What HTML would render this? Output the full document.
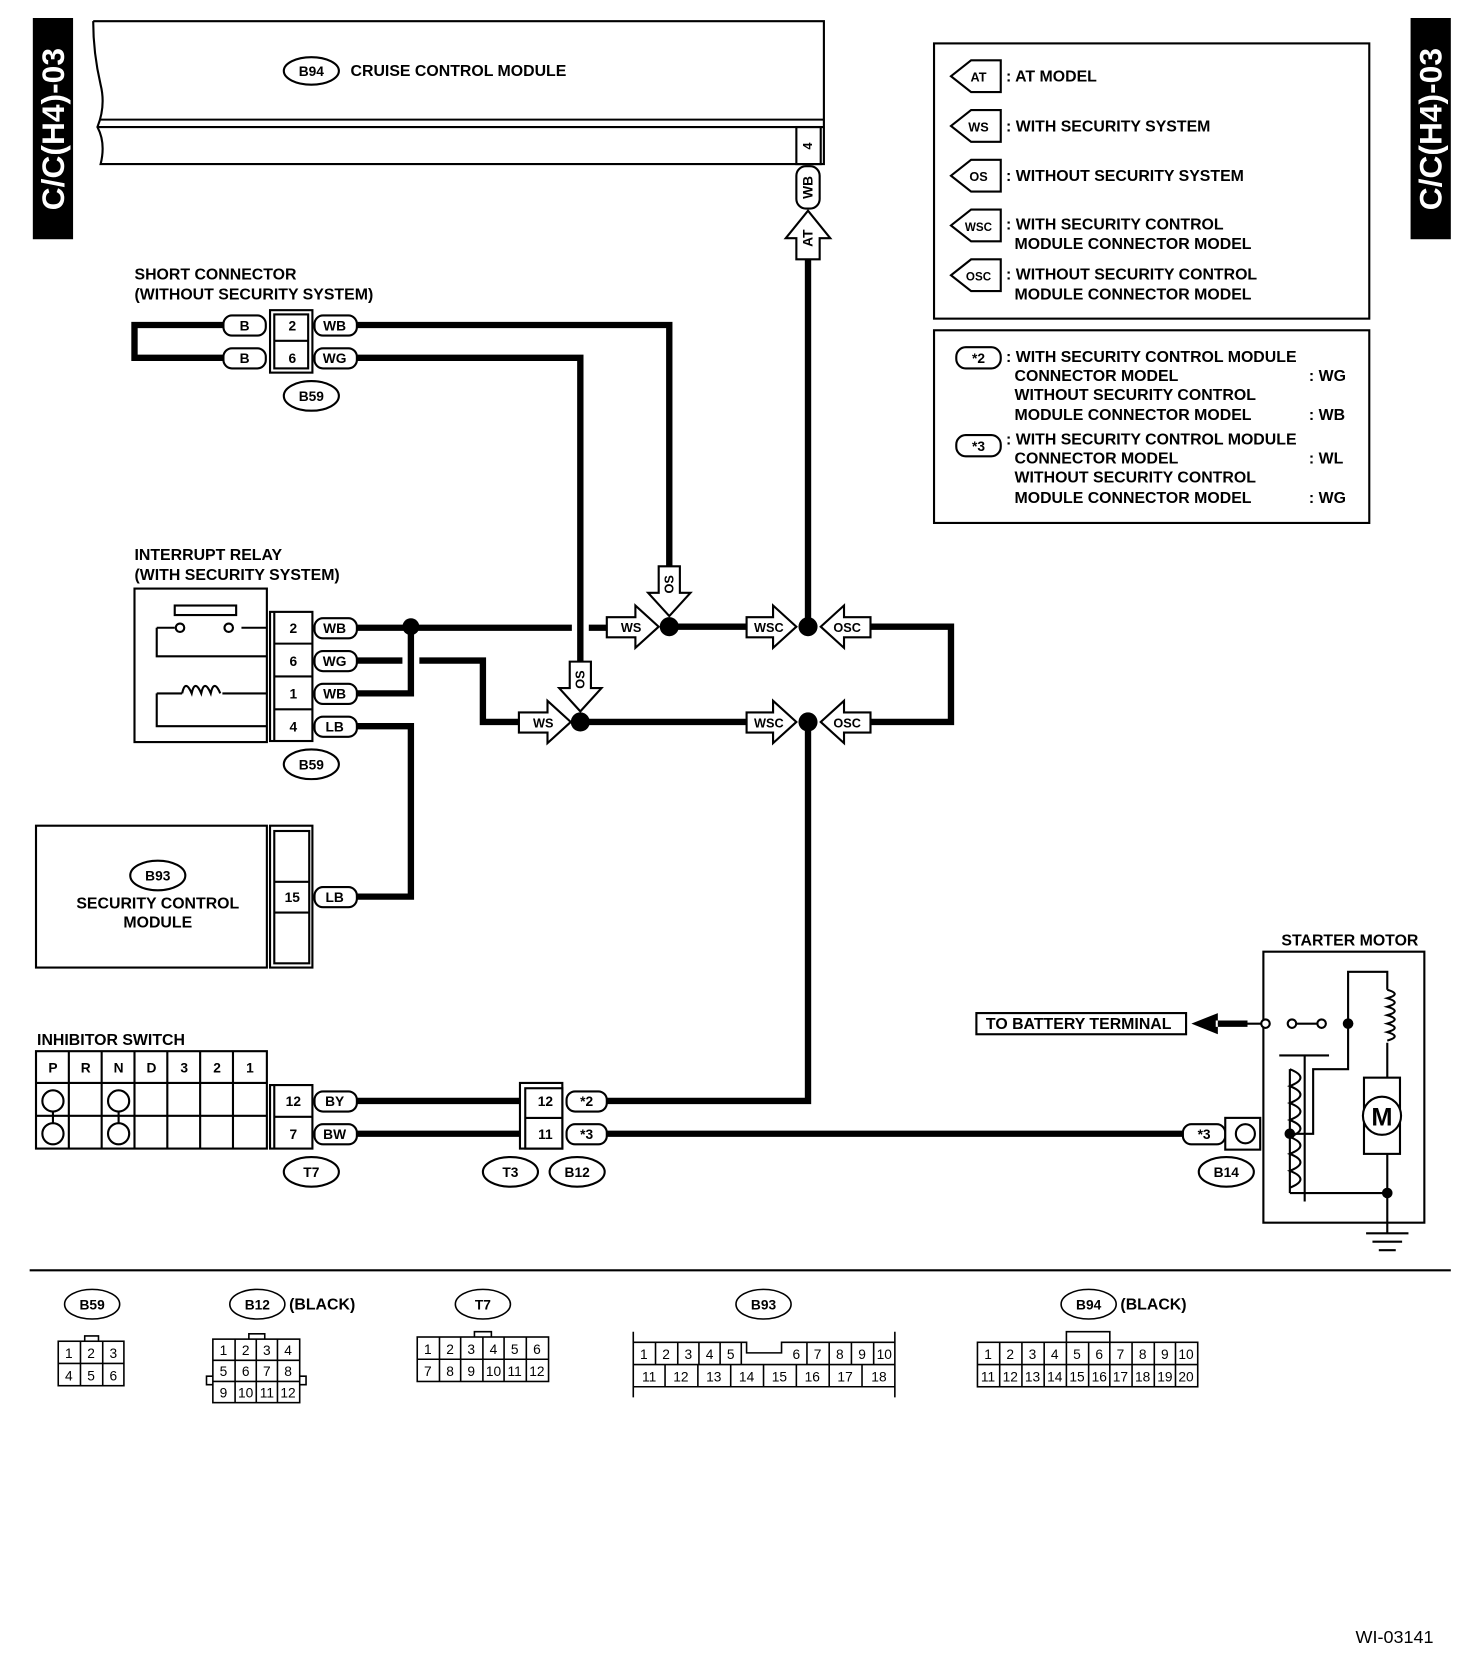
<!DOCTYPE html>
<html><head><meta charset="utf-8"><style>
html,body{margin:0;padding:0;background:#fff}
svg{display:block}
text{font-family:"Liberation Sans",Arial,sans-serif;font-weight:bold;font-size:15px;fill:#000}
.n{font-weight:normal}
</style></head><body>
<svg width="1472" height="1662" viewBox="0 0 1390 1570" preserveAspectRatio="none" xmlns="http://www.w3.org/2000/svg">
<g fill="none" stroke="#000" stroke-width="2">
<rect x="32" y="18" width="36" height="207" fill="#000"/>
<rect x="1333" y="18" width="36" height="207" fill="#000"/>
<path d="M88 20 L778 20 L778 155 L95 155 Q100 135 92 120 Q100 100 95 80 Q88 50 88 20"/>
<path d="M95 113 L778 113 M92 120 L778 120"/>
<rect x="752" y="120" width="23" height="35"/>
<ellipse cx="294" cy="67" rx="26" ry="13"/>
<rect x="752" y="157" width="22" height="40" rx="9"/>
<path d="M752 245 L752 225 L742 225 L763 199 L784 225 L774 225 L774 245 Z" fill="#fff"/>
<rect x="882" y="41" width="411" height="260"/>
<rect x="882" y="312" width="411" height="182"/>
<path d="M945 57 L917 57 L898 72 L917 87 L945 87 Z"/>
<path d="M945 104 L917 104 L898 119 L917 134 L945 134 Z"/>
<path d="M945 151 L917 151 L898 166 L917 181 L945 181 Z"/>
<path d="M945 198 L917 198 L898 213 L917 228 L945 228 Z"/>
<path d="M945 245 L917 245 L898 260 L917 275 L945 275 Z"/>
<rect x="903" y="328" width="42" height="20" rx="9"/>
<rect x="903" y="411" width="42" height="20" rx="9"/>
</g>
<text x="50" y="122" transform="rotate(-90 50 122)" text-anchor="middle" dominant-baseline="central" style="fill:#fff;font-size:30px">C/C(H4)-03</text>
<text x="1351" y="122" transform="rotate(-90 1351 122)" text-anchor="middle" dominant-baseline="central" style="fill:#fff;font-size:30px">C/C(H4)-03</text>
<text x="294" y="72" text-anchor="middle" style="font-size:13px">B94</text>
<text x="331" y="72">CRUISE CONTROL MODULE</text>
<text x="763" y="138" transform="rotate(-90 763 138)" text-anchor="middle" dominant-baseline="central" style="font-size:12px">4</text>
<text x="763" y="177" transform="rotate(-90 763 177)" text-anchor="middle" dominant-baseline="central" style="font-size:13px">WB</text>
<text x="763" y="225" transform="rotate(-90 763 225)" text-anchor="middle" dominant-baseline="central" style="font-size:13px">AT</text>
<g>
<text x="924" y="77" text-anchor="middle" style="font-size:12px">AT</text><text x="950" y="77">: AT MODEL</text>
<text x="924" y="124" text-anchor="middle" style="font-size:12px">WS</text><text x="950" y="124">: WITH SECURITY SYSTEM</text>
<text x="924" y="171" text-anchor="middle" style="font-size:12px">OS</text><text x="950" y="171">: WITHOUT SECURITY SYSTEM</text>
<text x="924" y="218" text-anchor="middle" style="font-size:11px">WSC</text><text x="950" y="217">: WITH SECURITY CONTROL</text><text x="958" y="235">MODULE CONNECTOR MODEL</text>
<text x="924" y="265" text-anchor="middle" style="font-size:11px">OSC</text><text x="950" y="264">: WITHOUT SECURITY CONTROL</text><text x="958" y="283">MODULE CONNECTOR MODEL</text>
<text x="924" y="343" text-anchor="middle" style="font-size:13px">*2</text>
<text x="950" y="342">: WITH SECURITY CONTROL MODULE</text>
<text x="958" y="360">CONNECTOR MODEL</text><text x="1236" y="360">: WG</text>
<text x="958" y="378">WITHOUT SECURITY CONTROL</text>
<text x="958" y="397">MODULE CONNECTOR MODEL</text><text x="1236" y="397">: WB</text>
<text x="924" y="426" text-anchor="middle" style="font-size:13px">*3</text>
<text x="950" y="420">: WITH SECURITY CONTROL MODULE</text>
<text x="958" y="438">CONNECTOR MODEL</text><text x="1236" y="438">: WL</text>
<text x="958" y="456">WITHOUT SECURITY CONTROL</text>
<text x="958" y="475">MODULE CONNECTOR MODEL</text><text x="1236" y="475">: WG</text>
</g>
<g fill="none" stroke="#000" stroke-width="6">
<path d="M763 245 L763 592"/>
<path d="M211 307 L127 307 L127 338 L211 338"/>
<path d="M337 307 L632 307 L632 537"/>
<path d="M337 338 L548 338 L548 627"/>
<path d="M337 593 L540 593 M556 593 L573 593"/>
<path d="M337 655 L388 655 L388 592"/>
<path d="M337 624 L380 624 M396 624 L456 624 L456 682 L490 682"/>
<path d="M337 686 L388 686 L388 847 L337 847"/>
<path d="M632 592 L705 592 M822 592 L898 592 L898 682 L822 682"/>
<path d="M548 682 L705 682"/>
<path d="M763 682 L763 1040 L573 1040"/>
<path d="M337 1040 L491 1040 M337 1071 L491 1071"/>
<path d="M573 1071 L1117 1071"/>
</g>
<g fill="#000">
<circle cx="388" cy="592" r="8"/><circle cx="632" cy="592" r="9"/><circle cx="763" cy="592" r="9"/>
<circle cx="548" cy="682" r="9"/><circle cx="763" cy="682" r="9"/>
</g>
<g fill="#fff" stroke="#000" stroke-width="2">
<path d="M573 583 L600 583 L600 572 L622 592 L600 612 L600 602 L573 602 Z"/>
<path d="M705 583 L730 583 L730 572 L752 592 L730 612 L730 602 L705 602 Z"/>
<path d="M822 583 L797 583 L797 572 L775 592 L797 612 L797 602 L822 602 Z"/>
<path d="M490 673 L517 673 L517 662 L539 682 L517 702 L517 692 L490 692 Z"/>
<path d="M705 673 L730 673 L730 662 L752 682 L730 702 L730 692 L705 692 Z"/>
<path d="M822 673 L797 673 L797 662 L775 682 L797 702 L797 692 L822 692 Z"/>
<path d="M622 535 L622 560 L612 560 L632 582 L652 560 L642 560 L642 535 Z"/>
<path d="M538 625 L538 650 L528 650 L548 672 L568 650 L558 650 L558 625 Z"/>
</g>
<g style="font-size:12px" text-anchor="middle">
<text x="596" y="597" style="font-size:12px">WS</text><text x="726" y="597" style="font-size:12px">WSC</text><text x="800" y="597" style="font-size:12px">OSC</text>
<text x="513" y="687" style="font-size:12px">WS</text><text x="726" y="687" style="font-size:12px">WSC</text><text x="800" y="687" style="font-size:12px">OSC</text>
</g>
<text x="632" y="552" transform="rotate(-90 632 552)" text-anchor="middle" dominant-baseline="central" style="font-size:12px">OS</text>
<text x="548" y="642" transform="rotate(-90 548 642)" text-anchor="middle" dominant-baseline="central" style="font-size:12px">OS</text>
<text x="127" y="264">SHORT CONNECTOR</text>
<text x="127" y="283">(WITHOUT SECURITY SYSTEM)</text>
<g fill="#fff" stroke="#000" stroke-width="2">
<rect x="255" y="293" width="40" height="59"/><rect x="259" y="297" width="32" height="51"/>
<path d="M259 322 L291 322"/>
<rect x="211" y="298" width="40" height="19" rx="8"/><rect x="211" y="329" width="40" height="19" rx="8"/>
<rect x="297" y="298" width="40" height="19" rx="8"/><rect x="297" y="329" width="40" height="19" rx="8"/>
<ellipse cx="294" cy="374" rx="26" ry="14"/>
</g>
<g text-anchor="middle">
<text x="231" y="312" style="font-size:13px">B</text><text x="231" y="343" style="font-size:13px">B</text><text x="276" y="312" style="font-size:13px">2</text><text x="276" y="343" style="font-size:13px">6</text>
<text x="316" y="312" style="font-size:13px">WB</text><text x="316" y="343" style="font-size:13px">WG</text><text x="294" y="379" style="font-size:13px">B59</text>
</g>
<text x="127" y="529">INTERRUPT RELAY</text>
<text x="127" y="548">(WITH SECURITY SYSTEM)</text>
<g fill="none" stroke="#000" stroke-width="2">
<rect x="127" y="556" width="125" height="145"/>
<rect x="165" y="572" width="58" height="9" />
<path d="M148 593 L148 620 L252 620 M148 593 L165 593 M228 593 L252 593 M148 655 L148 686 L252 686 M148 655 L172 655 M210 655 L252 655"/>
<circle cx="170" cy="593" r="4"/><circle cx="216" cy="593" r="4"/>
<path d="M172 655 q3 -14 9 0 q3 -14 9 0 q3 -14 9 0 q3 -14 9 0 "/>
</g>
<g fill="#fff" stroke="#000" stroke-width="2">
<rect x="255" y="578" width="40" height="122"/>
<path d="M259 578 L259 700 M259 608 L295 608 M259 639 L295 639 M259 670 L295 670"/>
<rect x="297" y="584" width="40" height="19" rx="8"/><rect x="297" y="615" width="40" height="19" rx="8"/>
<rect x="297" y="646" width="40" height="19" rx="8"/><rect x="297" y="677" width="40" height="19" rx="8"/>
<ellipse cx="294" cy="722" rx="26" ry="14"/>
</g>
<g text-anchor="middle">
<text x="277" y="598" style="font-size:13px">2</text><text x="277" y="629" style="font-size:13px">6</text><text x="277" y="660" style="font-size:13px">1</text><text x="277" y="691" style="font-size:13px">4</text>
<text x="316" y="598" style="font-size:13px">WB</text><text x="316" y="629" style="font-size:13px">WG</text><text x="316" y="660" style="font-size:13px">WB</text><text x="316" y="691" style="font-size:13px">LB</text>
<text x="294" y="727" style="font-size:13px">B59</text>
</g>
<g fill="#fff" stroke="#000" stroke-width="2">
<rect x="34" y="780" width="218" height="134"/>
<rect x="255" y="780" width="40" height="134"/><rect x="259" y="785" width="33" height="125"/>
<path d="M259 833 L292 833 M259 862 L292 862"/>
<rect x="297" y="838" width="40" height="19" rx="8"/>
<ellipse cx="149" cy="827" rx="26" ry="14"/>
</g>
<g text-anchor="middle">
<text x="149" y="832" style="font-size:13px">B93</text>
<text x="149" y="858">SECURITY CONTROL</text><text x="149" y="876">MODULE</text>
<text x="276" y="852" style="font-size:13px">15</text><text x="316" y="852" style="font-size:13px">LB</text>
</g>
<text x="35" y="987">INHIBITOR SWITCH</text>
<g fill="none" stroke="#000" stroke-width="2">
<rect x="34" y="993" width="218" height="92"/>
<path d="M34 1023 L252 1023 M34 1054 L252 1054 M65 993 L65 1085 M96 993 L96 1085 M127 993 L127 1085 M158 993 L158 1085 M189 993 L189 1085 M220 993 L220 1085"/>
<circle cx="50" cy="1040" r="10"/><circle cx="50" cy="1071" r="10"/><path d="M50 1050 L50 1061"/>
<circle cx="112" cy="1040" r="10"/><circle cx="112" cy="1071" r="10"/><path d="M112 1050 L112 1061"/>
</g>
<g text-anchor="middle">
<text x="50" y="1013" style="font-size:13px">P</text><text x="81" y="1013" style="font-size:13px">R</text><text x="112" y="1013" style="font-size:13px">N</text><text x="143" y="1013" style="font-size:13px">D</text><text x="174" y="1013" style="font-size:13px">3</text><text x="205" y="1013" style="font-size:13px">2</text><text x="236" y="1013" style="font-size:13px">1</text>
</g>
<g fill="#fff" stroke="#000" stroke-width="2">
<rect x="255" y="1025" width="40" height="60"/><path d="M259 1025 L259 1085 M259 1055 L295 1055"/>
<rect x="297" y="1031" width="40" height="19" rx="8"/><rect x="297" y="1062" width="40" height="19" rx="8"/>
<rect x="491" y="1023" width="40" height="62"/><rect x="496" y="1028" width="35" height="57"/><path d="M496 1056 L531 1056"/>
<rect x="535" y="1031" width="38" height="19" rx="8"/><rect x="535" y="1062" width="38" height="19" rx="8"/>
<rect x="1117" y="1062" width="40" height="19" rx="8"/>
<rect x="1157" y="1056" width="33" height="30"/><circle cx="1176" cy="1071" r="9"/>
<ellipse cx="294" cy="1107" rx="26" ry="14"/><ellipse cx="482" cy="1107" rx="26" ry="14"/>
<ellipse cx="545" cy="1107" rx="26" ry="14"/><ellipse cx="1158" cy="1107" rx="26" ry="14"/>
</g>
<g text-anchor="middle">
<text x="277" y="1045" style="font-size:13px">12</text><text x="277" y="1076" style="font-size:13px">7</text><text x="316" y="1045" style="font-size:13px">BY</text><text x="316" y="1076" style="font-size:13px">BW</text>
<text x="515" y="1045" style="font-size:13px">12</text><text x="515" y="1076" style="font-size:13px">11</text><text x="554" y="1045" style="font-size:13px">*2</text><text x="554" y="1076" style="font-size:13px">*3</text>
<text x="1137" y="1076" style="font-size:13px">*3</text>
<text x="294" y="1112" style="font-size:13px">T7</text><text x="482" y="1112" style="font-size:13px">T3</text><text x="545" y="1112" style="font-size:13px">B12</text><text x="1158" y="1112" style="font-size:13px">B14</text>
</g>
<text x="1210" y="893">STARTER MOTOR</text>
<g fill="none" stroke="#000" stroke-width="2">
<rect x="1193" y="899" width="152" height="256"/>
<rect x="922" y="957" width="198" height="20"/>
<path d="M1150 967 L1191 967 M1224 967 L1244 967"/>
<path d="M1273 967 L1273 918 L1310 918 L1310 935 M1310 985 L1310 1018 M1310 1090 L1310 1127 L1218 1127 M1273 967 L1273 1010 L1240 1010 L1240 1071 L1218 1071"/>
<path d="M1310 935 q14 4 0 8 q14 4 0 8 q14 4 0 8 q14 4 0 8 q14 4 0 8 q14 4 0 8"/>
<path d="M1208 997 L1255 997 M1232 997 L1232 1135"/>
<path d="M1218 1010 q20 8 0 16 q20 8 0 16 q20 8 0 16 q20 8 0 16 q20 8 0 16 q20 8 0 16 q20 8 0 16 M1218 1010 L1218 1127"/>
<rect x="1288" y="1018" width="34" height="72"/>
<circle cx="1305" cy="1054" r="18" fill="#fff"/>
<path d="M1310 1127 L1310 1165 M1290 1165 L1330 1165 M1296 1173 L1324 1173 M1302 1181 L1318 1181"/>
<circle cx="1195" cy="967" r="4" fill="#fff"/><circle cx="1220" cy="967" r="4" fill="#fff"/><circle cx="1248" cy="967" r="4" fill="#fff"/>
</g>
<path d="M1150 957 L1125 967 L1150 977 Z M1148 964 L1178 964 L1178 970 L1148 970Z" fill="#000"/>
<circle cx="1273" cy="967" r="5" fill="#000"/><circle cx="1218" cy="1071" r="5" fill="#000"/><circle cx="1310" cy="1127" r="5" fill="#000"/>
<text x="1305" y="1063" text-anchor="middle" style="font-size:24px">M</text>
<text x="931" y="972">TO BATTERY TERMINAL</text>
<path d="M28 1200 L1370 1200" stroke="#000" stroke-width="2"/>
<g fill="none" stroke="#000" stroke-width="1.5">
<ellipse cx="87" cy="1232" rx="26" ry="14"/><ellipse cx="243" cy="1232" rx="26" ry="14"/><ellipse cx="456" cy="1232" rx="26" ry="14"/>
<ellipse cx="721" cy="1232" rx="26" ry="14"/><ellipse cx="1028" cy="1232" rx="26" ry="14"/>
<rect x="55" y="1267" width="62" height="42"/><path d="M55 1288 L117 1288 M76 1267 L76 1309 M97 1267 L97 1309 M80 1267 L80 1262 L93 1262 L93 1267"/>
<rect x="201" y="1265" width="82" height="60"/><path d="M201 1285 L283 1285 M201 1305 L283 1305 M222 1265 L222 1325 M242 1265 L242 1325 M262 1265 L262 1325 M235 1265 L235 1260 L250 1260 L250 1265 M201 1300 L195 1300 L195 1308 L201 1308 M283 1300 L289 1300 L289 1308 L283 1308"/>
<rect x="394" y="1263" width="124" height="42"/><path d="M394 1284 L518 1284 M415 1263 L415 1305 M435 1263 L435 1305 M456 1263 L456 1305 M476 1263 L476 1305 M497 1263 L497 1305 M448 1263 L448 1258 L464 1258 L464 1263"/>
<path d="M598 1268 L705 1268 L705 1278 L738 1278 L738 1268 L845 1268 L845 1310 L598 1310 Z M598 1289 L845 1289 M598 1258 L598 1320 M845 1258 L845 1320"/>
<path d="M619 1268 L619 1289 M640 1268 L640 1289 M660 1268 L660 1289 M680 1268 L680 1289 M700 1268 L700 1289 M762 1268 L762 1289 M783 1268 L783 1289 M804 1268 L804 1289 M825 1268 L825 1289 M628 1289 L628 1310 M659 1289 L659 1310 M690 1289 L690 1310 M721 1289 L721 1310 M752 1289 L752 1310 M783 1289 L783 1310 M814 1289 L814 1310"/>
<rect x="923" y="1268" width="208" height="42"/><path d="M923 1289 L1131 1289 M944 1268 L944 1310 M965 1268 L965 1310 M986 1268 L986 1310 M1007 1268 L1007 1310 M1028 1268 L1028 1310 M1048 1268 L1048 1310 M1069 1268 L1069 1310 M1090 1268 L1090 1310 M1110 1268 L1110 1310 M1007 1268 L1007 1258 L1048 1258 L1048 1268"/>
</g>
<g text-anchor="middle" style="font-weight:normal">
<text x="87" y="1237" style="font-size:13px">B59</text><text x="243" y="1237" style="font-size:13px">B12</text><text x="456" y="1237" style="font-size:13px">T7</text><text x="721" y="1237" style="font-size:13px">B93</text><text x="1028" y="1237" style="font-size:13px">B94</text>
</g>
<g text-anchor="middle">
<text x="65" y="1283" class="n" style="font-size:13px">1</text><text x="86" y="1283" class="n" style="font-size:13px">2</text><text x="107" y="1283" class="n" style="font-size:13px">3</text>
<text x="65" y="1304" class="n" style="font-size:13px">4</text><text x="86" y="1304" class="n" style="font-size:13px">5</text><text x="107" y="1304" class="n" style="font-size:13px">6</text>
<text x="211" y="1280" class="n" style="font-size:13px">1</text><text x="232" y="1280" class="n" style="font-size:13px">2</text><text x="252" y="1280" class="n" style="font-size:13px">3</text><text x="272" y="1280" class="n" style="font-size:13px">4</text>
<text x="211" y="1300" class="n" style="font-size:13px">5</text><text x="232" y="1300" class="n" style="font-size:13px">6</text><text x="252" y="1300" class="n" style="font-size:13px">7</text><text x="272" y="1300" class="n" style="font-size:13px">8</text>
<text x="211" y="1320" class="n" style="font-size:13px">9</text><text x="232" y="1320" class="n" style="font-size:13px">10</text><text x="252" y="1320" class="n" style="font-size:13px">11</text><text x="272" y="1320" class="n" style="font-size:13px">12</text>
<text x="404" y="1279" class="n" style="font-size:13px">1</text><text x="425" y="1279" class="n" style="font-size:13px">2</text><text x="445" y="1279" class="n" style="font-size:13px">3</text><text x="466" y="1279" class="n" style="font-size:13px">4</text><text x="486" y="1279" class="n" style="font-size:13px">5</text><text x="507" y="1279" class="n" style="font-size:13px">6</text>
<text x="404" y="1300" class="n" style="font-size:13px">7</text><text x="425" y="1300" class="n" style="font-size:13px">8</text><text x="445" y="1300" class="n" style="font-size:13px">9</text><text x="466" y="1300" class="n" style="font-size:13px">10</text><text x="486" y="1300" class="n" style="font-size:13px">11</text><text x="507" y="1300" class="n" style="font-size:13px">12</text>
<text x="608" y="1284" class="n" style="font-size:13px">1</text><text x="629" y="1284" class="n" style="font-size:13px">2</text><text x="650" y="1284" class="n" style="font-size:13px">3</text><text x="670" y="1284" class="n" style="font-size:13px">4</text><text x="690" y="1284" class="n" style="font-size:13px">5</text>
<text x="752" y="1284" class="n" style="font-size:13px">6</text><text x="772" y="1284" class="n" style="font-size:13px">7</text><text x="793" y="1284" class="n" style="font-size:13px">8</text><text x="814" y="1284" class="n" style="font-size:13px">9</text><text x="835" y="1284" class="n" style="font-size:13px">10</text>
<text x="613" y="1305" class="n" style="font-size:13px">11</text><text x="643" y="1305" class="n" style="font-size:13px">12</text><text x="674" y="1305" class="n" style="font-size:13px">13</text><text x="705" y="1305" class="n" style="font-size:13px">14</text><text x="736" y="1305" class="n" style="font-size:13px">15</text><text x="767" y="1305" class="n" style="font-size:13px">16</text><text x="798" y="1305" class="n" style="font-size:13px">17</text><text x="830" y="1305" class="n" style="font-size:13px">18</text>
<text x="933" y="1284" class="n" style="font-size:13px">1</text><text x="954" y="1284" class="n" style="font-size:13px">2</text><text x="975" y="1284" class="n" style="font-size:13px">3</text><text x="996" y="1284" class="n" style="font-size:13px">4</text><text x="1017" y="1284" class="n" style="font-size:13px">5</text><text x="1038" y="1284" class="n" style="font-size:13px">6</text><text x="1058" y="1284" class="n" style="font-size:13px">7</text><text x="1079" y="1284" class="n" style="font-size:13px">8</text><text x="1100" y="1284" class="n" style="font-size:13px">9</text><text x="1120" y="1284" class="n" style="font-size:13px">10</text>
<text x="933" y="1305" class="n" style="font-size:13px">11</text><text x="954" y="1305" class="n" style="font-size:13px">12</text><text x="975" y="1305" class="n" style="font-size:13px">13</text><text x="996" y="1305" class="n" style="font-size:13px">14</text><text x="1017" y="1305" class="n" style="font-size:13px">15</text><text x="1038" y="1305" class="n" style="font-size:13px">16</text><text x="1058" y="1305" class="n" style="font-size:13px">17</text><text x="1079" y="1305" class="n" style="font-size:13px">18</text><text x="1100" y="1305" class="n" style="font-size:13px">19</text><text x="1120" y="1305" class="n" style="font-size:13px">20</text>
</g>
<text x="273" y="1237">(BLACK)</text>
<text x="1058" y="1237">(BLACK)</text>
<text x="1280" y="1552" class="n" style="font-size:17px">WI-03141</text>
</svg>
</body></html>
